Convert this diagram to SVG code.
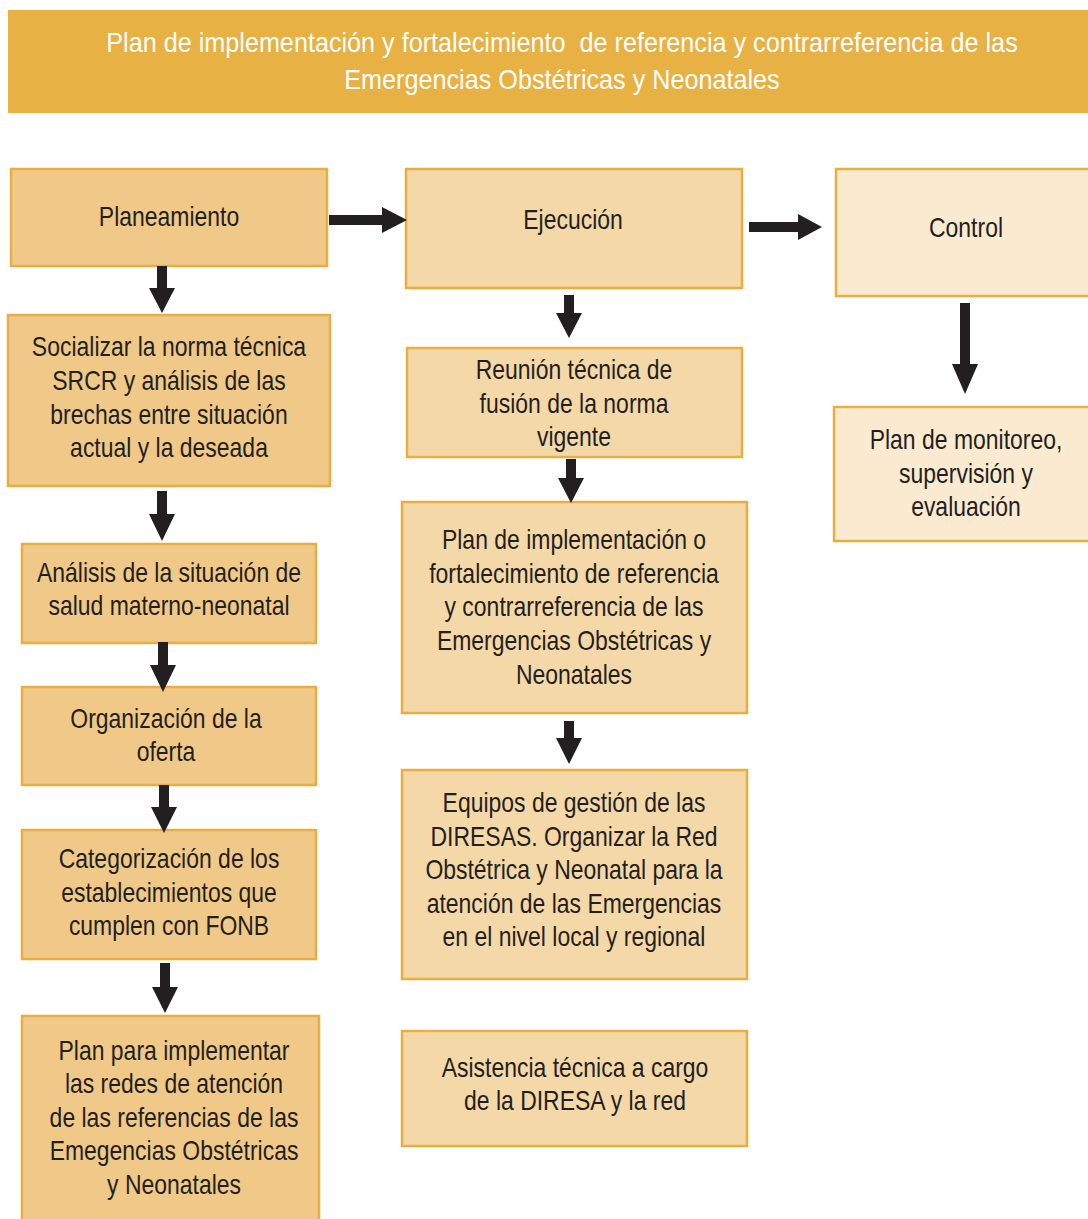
<svg xmlns="http://www.w3.org/2000/svg" width="1088" height="1219" viewBox="0 0 1088 1219">
<style>
  .plan { fill: #F0C988; stroke: #E9AE42; stroke-width: 2.5; }
  .ejec { fill: #F5D8A8; stroke: #E9AE42; stroke-width: 2.5; }
  .ctrl { fill: #FAEAD0; stroke: #E9AE42; stroke-width: 2.5; }
  .t { font-family: "Liberation Sans", Arial, sans-serif; font-size: 28px; fill: #231F20; text-anchor: middle; }
  .h { font-family: "Liberation Sans", Arial, sans-serif; font-size: 28px; fill: #FFFFFF; text-anchor: middle; }
  .arr { fill: #231F20; }
</style>
<rect width="1088" height="1219" fill="#FFFFFF"/>

<g id="header">
  <rect x="8" y="10" width="1082" height="103" fill="#E8B144"/>
  <text class="h" transform="translate(562 0) scale(0.9 1)" xml:space="preserve"><tspan x="0" y="52.5">Plan de implementación y fortalecimiento  de referencia y contrarreferencia de las</tspan><tspan x="0" y="89.5">Emergencias Obstétricas y Neonatales</tspan></text>
</g>

<g id="planeamiento">
  <rect class="plan" x="11" y="169" width="316" height="97"/>
  <text class="t" transform="translate(169 0) scale(0.82 1)"><tspan x="0" y="226">Planeamiento</tspan></text>
</g>
<g id="socializar">
  <rect class="plan" x="8" y="315" width="322" height="171"/>
  <text class="t" transform="translate(169 0) scale(0.82 1)"><tspan x="0" y="356">Socializar la norma técnica</tspan><tspan x="0" y="390">SRCR y análisis de las</tspan><tspan x="0" y="424">brechas entre situación</tspan><tspan x="0" y="457">actual y la deseada</tspan></text>
</g>
<g id="analisis">
  <rect class="plan" x="22" y="544" width="294" height="99"/>
  <text class="t" transform="translate(169 0) scale(0.82 1)"><tspan x="0" y="582">Análisis de la situación de</tspan><tspan x="0" y="615">salud materno-neonatal</tspan></text>
</g>
<g id="organizacion">
  <rect class="plan" x="22" y="687" width="294" height="98"/>
  <text class="t" transform="translate(166 0) scale(0.82 1)"><tspan x="0" y="728">Organización de la</tspan><tspan x="0" y="761">oferta</tspan></text>
</g>
<g id="categorizacion">
  <rect class="plan" x="22" y="830" width="294" height="129"/>
  <text class="t" transform="translate(169 0) scale(0.82 1)"><tspan x="0" y="868">Categorización de los</tspan><tspan x="0" y="902">establecimientos que</tspan><tspan x="0" y="935">cumplen con FONB</tspan></text>
</g>
<g id="plan-redes">
  <rect class="plan" x="22" y="1016" width="297" height="210"/>
  <text class="t" transform="translate(174 0) scale(0.82 1)"><tspan x="0" y="1060">Plan para implementar</tspan><tspan x="0" y="1093">las redes de atención</tspan><tspan x="0" y="1127">de las referencias de las</tspan><tspan x="0" y="1160">Emegencias Obstétricas</tspan><tspan x="0" y="1194">y Neonatales</tspan></text>
</g>

<g id="ejecucion">
  <rect class="ejec" x="406" y="169" width="336" height="119"/>
  <text class="t" transform="translate(573 0) scale(0.82 1)"><tspan x="0" y="229">Ejecución</tspan></text>
</g>
<g id="reunion">
  <rect class="ejec" x="407" y="348" width="335" height="109"/>
  <text class="t" transform="translate(574 0) scale(0.82 1)"><tspan x="0" y="379">Reunión técnica de</tspan><tspan x="0" y="413">fusión de la norma</tspan><tspan x="0" y="446">vigente</tspan></text>
</g>
<g id="plan-implementacion">
  <rect class="ejec" x="402" y="502" width="345" height="211"/>
  <text class="t" transform="translate(574 0) scale(0.82 1)"><tspan x="0" y="549">Plan de implementación o</tspan><tspan x="0" y="583">fortalecimiento de referencia</tspan><tspan x="0" y="616">y contrarreferencia de las</tspan><tspan x="0" y="650">Emergencias Obstétricas y</tspan><tspan x="0" y="684">Neonatales</tspan></text>
</g>
<g id="equipos">
  <rect class="ejec" x="402" y="770" width="345" height="209"/>
  <text class="t" transform="translate(574 0) scale(0.82 1)"><tspan x="0" y="812">Equipos de gestión de las</tspan><tspan x="0" y="846">DIRESAS. Organizar la Red</tspan><tspan x="0" y="879">Obstétrica y Neonatal para la</tspan><tspan x="0" y="913">atención de las Emergencias</tspan><tspan x="0" y="946">en el nivel local y regional</tspan></text>
</g>
<g id="asistencia">
  <rect class="ejec" x="402" y="1031" width="345" height="115"/>
  <text class="t" transform="translate(575 0) scale(0.82 1)"><tspan x="0" y="1077">Asistencia técnica a cargo</tspan><tspan x="0" y="1110">de la DIRESA y la red</tspan></text>
</g>

<g id="control">
  <rect class="ctrl" x="836" y="169" width="256" height="127"/>
  <text class="t" transform="translate(966 0) scale(0.82 1)"><tspan x="0" y="237">Control</tspan></text>
</g>
<g id="monitoreo">
  <rect class="ctrl" x="834" y="407" width="258" height="134"/>
  <text class="t" transform="translate(966 0) scale(0.82 1)"><tspan x="0" y="449">Plan de monitoreo,</tspan><tspan x="0" y="483">supervisión y</tspan><tspan x="0" y="516">evaluación</tspan></text>
</g>

<g id="connectors">
  <path class="arr" d="M329,215 H382 V207 L407,220 L382,233 V225 H329 Z"/>
  <path class="arr" d="M749,222 H798 V214 L822,227 L798,240 V232 H749 Z"/>
  <path class="arr" d="M157,266 H167 V288 H175 L162,313 L149,288 H157 Z"/>
  <path class="arr" d="M157,491 H167 V514 H175 L162,541 L149,514 H157 Z"/>
  <path class="arr" d="M158,642 H168 V665 H176 L163,692 L150,665 H158 Z"/>
  <path class="arr" d="M159,785 H169 V807 H177 L164,833 L151,807 H159 Z"/>
  <path class="arr" d="M160,963 H170 V987 H178 L165,1013 L152,987 H160 Z"/>
  <path class="arr" d="M564,295 H574 V313 H582 L569,338 L556,313 H564 Z"/>
  <path class="arr" d="M566,459 H576 V478 H584 L571,503 L558,478 H566 Z"/>
  <path class="arr" d="M564,721 H574 V738 H582 L569,764 L556,738 H564 Z"/>
  <path class="arr" d="M960,303 H970 V364 H978 L965,394 L952,364 H960 Z"/>
</g>
</svg>
